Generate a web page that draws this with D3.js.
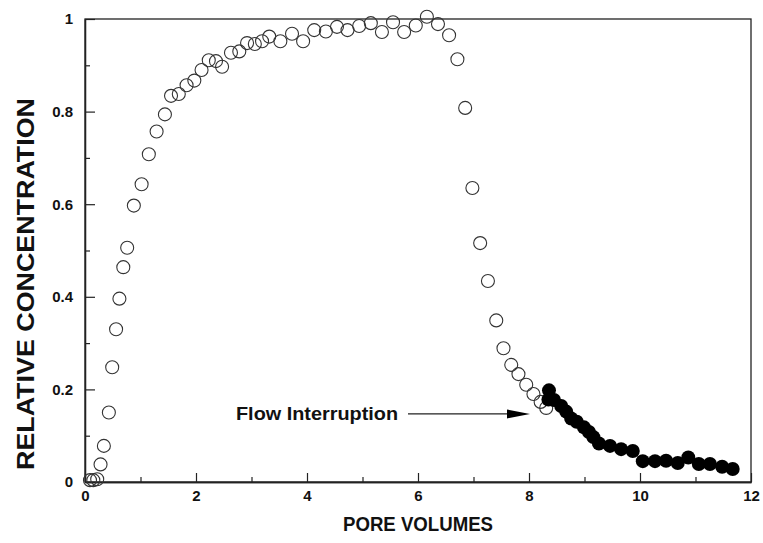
<!DOCTYPE html>
<html>
<head>
<meta charset="utf-8">
<script src="https://cdn.jsdelivr.net/npm/d3@7"></script>
<style>
  body { margin: 0; background: #fff; }
  text { font-family: "Liberation Sans", Arial, sans-serif; font-weight: bold; fill: #111; }
</style>
</head>
<body>
<div id="chart"></div>
<script>
const width = 763;
const height = 543;
const margin = { top: 19, right: 12, bottom: 61, left: 85 };

// open circles: continuous injection / elution
const openX = [0.09, 0.15, 0.22, 0.28, 0.34, 0.43, 0.49, 0.56, 0.62, 0.69, 0.76, 0.88, 1.02, 1.15, 1.29, 1.44,
  1.55, 1.69, 1.83, 1.97, 2.1, 2.23, 2.36, 2.47, 2.63, 2.78, 2.92, 3.06, 3.19, 3.32, 3.52, 3.73, 3.93, 4.13,
  4.34, 4.54, 4.73, 4.94, 5.15, 5.35, 5.55, 5.75, 5.96, 6.16, 6.36, 6.56, 6.71, 6.85, 6.98, 7.12, 7.26, 7.41,
  7.54, 7.68, 7.81, 7.95, 8.08, 8.21, 8.31];
const openY = [0.004, 0.004, 0.006, 0.038, 0.078, 0.15, 0.248, 0.33, 0.396, 0.464, 0.506, 0.597, 0.643, 0.708, 0.757, 0.794,
  0.834, 0.838, 0.857, 0.867, 0.89, 0.911, 0.909, 0.897, 0.927, 0.93, 0.948, 0.946, 0.952, 0.962, 0.952, 0.968, 0.952, 0.976,
  0.973, 0.983, 0.976, 0.985, 0.991, 0.972, 0.993, 0.972, 0.986, 1.005, 0.989, 0.965, 0.913, 0.808, 0.635, 0.516, 0.434, 0.349,
  0.289, 0.253, 0.233, 0.21, 0.19, 0.173, 0.16];

// filled circles: after flow interruption
const filledX = [8.36, 8.35, 8.45, 8.58, 8.67, 8.76, 8.86, 8.99, 9.08, 9.16, 9.26, 9.46, 9.66, 9.87,
  10.05, 10.27, 10.47, 10.68, 10.87, 11.06, 11.26, 11.48, 11.67];
const filledY = [0.198, 0.178, 0.177, 0.164, 0.152, 0.137, 0.13, 0.118, 0.108, 0.097, 0.083, 0.078, 0.071, 0.067,
  0.045, 0.045, 0.046, 0.041, 0.053, 0.039, 0.039, 0.033, 0.028];

const xTicks = [0, 2, 4, 6, 8, 10, 12];
const xMinor = [1, 3, 5, 7, 9, 11];
const yTicks = [0, 0.2, 0.4, 0.6, 0.8, 1];
const yMinor = [0.1, 0.3, 0.5, 0.7, 0.9];
const yTickLabels = ["0", "0.2", "0.4", "0.6", "0.8", "1"];

const xScale = d3.scaleLinear().domain([0, 12]).range([margin.left, width - margin.right]);
const yScale = d3.scaleLinear().domain([0, 1]).range([height - margin.bottom - 0, margin.top]);

const svg = d3.select("#chart").append("svg").attr("width", width).attr("height", height);

// frame
svg.append("rect")
  .attr("x", xScale(0)).attr("y", yScale(1))
  .attr("width", xScale(12) - xScale(0)).attr("height", yScale(0) - yScale(1))
  .attr("fill", "none").attr("stroke", "#222").attr("stroke-width", 1.3);

const xAxis = svg.append("g")
  .attr("transform", `translate(0, ${yScale(0)})`)
  .call(d3.axisBottom(xScale).tickValues(xTicks).tickFormat(d3.format("d")).tickSize(-9).tickSizeOuter(0).tickPadding(8));
svg.append("g")
  .attr("transform", `translate(0, ${yScale(0)})`)
  .call(d3.axisBottom(xScale).tickValues(xMinor).tickFormat("").tickSize(-5).tickSizeOuter(0));

const yAxis = svg.append("g")
  .attr("transform", `translate(${xScale(0)}, 0)`)
  .call(d3.axisLeft(yScale).tickValues(yTicks).tickFormat((d, i) => yTickLabels[i]).tickSize(-10).tickSizeOuter(0).tickPadding(12));
svg.append("g")
  .attr("transform", `translate(${xScale(0)}, 0)`)
  .call(d3.axisLeft(yScale).tickValues(yMinor).tickFormat("").tickSize(-5).tickSizeOuter(0));

svg.selectAll(".domain").attr("stroke", "#222").attr("stroke-width", 1.3);
svg.selectAll(".tick line").attr("stroke", "#222").attr("stroke-width", 1.2);
svg.selectAll(".tick text").style("font-size", "15px").style("font-family", "'Liberation Sans', Arial, sans-serif").style("font-weight", "bold");

// axis titles
svg.append("text")
  .attr("x", (xScale(0) + xScale(12)) / 2)
  .attr("y", 531)
  .attr("text-anchor", "middle")
  .attr("textLength", 150)
  .attr("lengthAdjust", "spacingAndGlyphs")
  .style("font-size", "21px")
  .text("PORE VOLUMES");

svg.append("text")
  .attr("transform", "rotate(-90)")
  .attr("x", -284)
  .attr("y", 34)
  .attr("text-anchor", "middle")
  .attr("textLength", 372)
  .attr("lengthAdjust", "spacingAndGlyphs")
  .style("font-size", "23px")
  .text("RELATIVE CONCENTRATION");

// data
const openData = openX.map((x, i) => ({ x: x, y: openY[i] }));
const filledData = filledX.map((x, i) => ({ x: x, y: filledY[i] }));

svg.append("g")
  .selectAll("circle")
  .data(openData)
  .join("circle")
  .attr("cx", (d) => xScale(d.x))
  .attr("cy", (d) => yScale(d.y))
  .attr("r", 6.5)
  .attr("fill", "none")
  .attr("stroke", "#333")
  .attr("stroke-width", 1.1);

svg.append("g")
  .selectAll("circle")
  .data(filledData)
  .join("circle")
  .attr("cx", (d) => xScale(d.x))
  .attr("cy", (d) => yScale(d.y))
  .attr("r", 7)
  .attr("fill", "#000");

// annotation
const arrowY = yScale(0.147);
svg.append("text")
  .attr("x", 236)
  .attr("y", arrowY + 6)
  .attr("textLength", 162)
  .attr("lengthAdjust", "spacingAndGlyphs")
  .style("font-size", "18px")
  .text("Flow Interruption");

svg.append("line")
  .attr("x1", 408).attr("x2", 512)
  .attr("y1", arrowY).attr("y2", arrowY)
  .attr("stroke", "#222").attr("stroke-width", 1.2);
svg.append("path")
  .attr("d", `M507,${arrowY - 4.5} L530,${arrowY} L507,${arrowY + 4.5} Z`)
  .attr("fill", "#000");
</script>
</body>
</html>
